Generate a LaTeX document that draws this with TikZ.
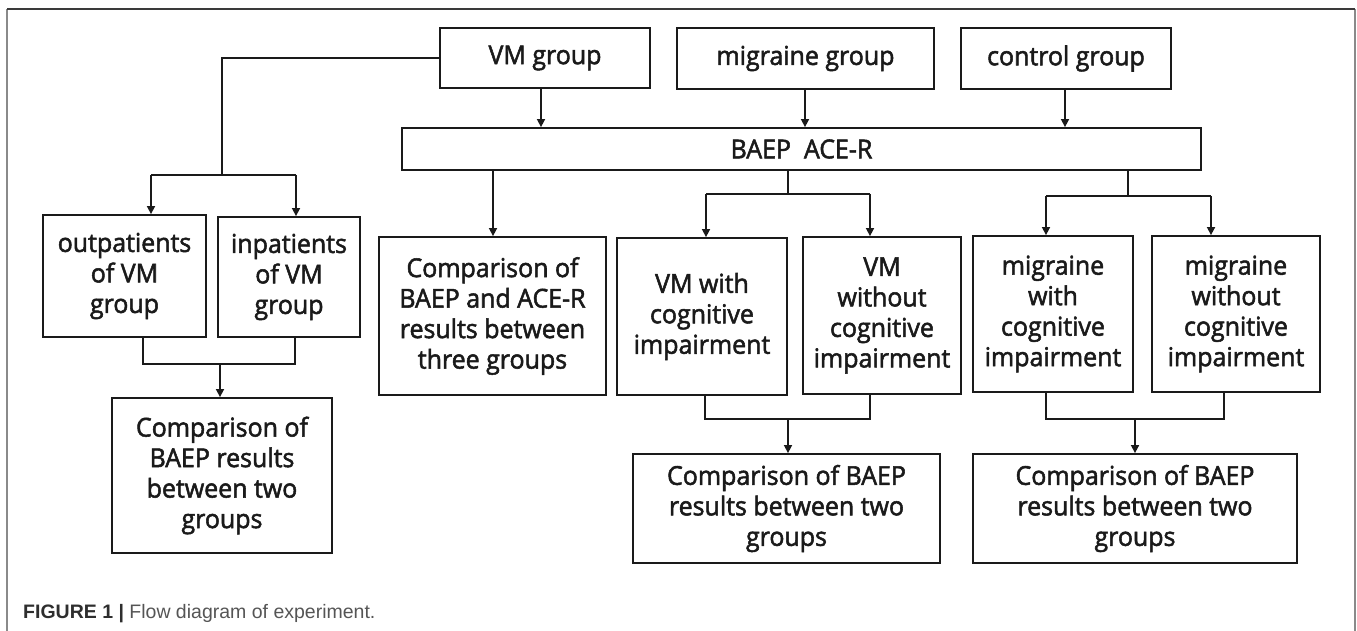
\documentclass[tikz,border=0pt]{standalone}
\usepackage{fontspec}
\setmainfont{Open Sans}
\newfontfamily\boxfont{Open Sans}[FakeBold=2,FakeStretch=0.96]
\newfontfamily\capfont{Liberation Sans}
\usetikzlibrary{arrows.meta}
\definecolor{ink}{HTML}{1A1A1A}
\definecolor{framedark}{HTML}{3A3A3A}
\definecolor{frameside}{HTML}{8A8A8A}
\definecolor{capdark}{HTML}{2E2E2E}
\definecolor{capgray}{HTML}{555555}
\tikzset{
  box/.style={draw=ink, line width=1.8pt, align=center, inner sep=0pt,
    font=\boxfont\fontsize{26}{30.5}\selectfont, text=ink},
  conn/.style={draw=ink, line width=1.6pt},
  arr/.style={conn, -{Triangle[length=8pt,width=8pt]}},
}
\begin{document}
\begin{tikzpicture}[x=1pt,y=-1pt]
\useasboundingbox (0,0) rectangle (1357,631);
% outer frame
\draw[frameside, line width=1.5pt] (7,631) -- (7,9);
\draw[frameside, line width=1.5pt] (1355,9) -- (1355,631);
\draw[framedark, line width=1.3pt] (7,9) -- (1355,9);

% boxes
\node[box, minimum width=210pt, minimum height=60pt] (vm) at (545,58) {VM group};
\node[box, minimum width=257pt, minimum height=61pt] (mig) at (805.5,58.5) {migraine group};
\node[box, minimum width=210pt, minimum height=61pt] (ctl) at (1066,58.5) {control group};
\node[box, minimum width=799pt, minimum height=42pt] (baep) at (801.5,149) {BAEP\ \ ACE-R};

\node[box, minimum width=163pt, minimum height=122pt] (out) at (124.5,276) {outpatients\\of VM\\group};
\node[box, minimum width=142pt, minimum height=120pt] (inp) at (289,277) {inpatients\\of VM\\group};
\node[box, minimum width=227pt, minimum height=158pt] (cmp3) at (492.5,316) {Comparison of\\BAEP and ACE-R\\results between\\three groups};
\node[box, minimum width=170pt, minimum height=157pt] (vmw) at (702,316.5) {VM with\\cognitive\\impairment};
\node[box, minimum width=158pt, minimum height=157pt] (vmwo) at (882,315.5) {VM\\without\\cognitive\\impairment};
\node[box, minimum width=160pt, minimum height=156pt] (mw) at (1053,314) {migraine\\with\\cognitive\\impairment};
\node[box, minimum width=168pt, minimum height=156pt] (mwo) at (1236,314) {migraine\\without\\cognitive\\impairment};

\node[box, minimum width=220pt, minimum height=155pt] (cmpL) at (222,475.5) {Comparison of\\BAEP results\\between two\\groups};
\node[box, minimum width=307pt, minimum height=109pt] (cmpM) at (786.5,508.5) {Comparison of BAEP\\results between two\\groups};
\node[box, minimum width=324pt, minimum height=109pt] (cmpR) at (1135,508.5) {Comparison of BAEP\\results between two\\groups};

% junction coordinates
\coordinate (jL) at (222,175);
\coordinate (bl1) at (151,175);
\coordinate (bl2) at (296,175);
\coordinate (cL1) at (143,364);
\coordinate (cL2) at (295,364);
\coordinate (cL) at (220,364);
\coordinate (a1) at (541,0);
\coordinate (a2) at (805,0);
\coordinate (a3) at (1065,0);
\coordinate (a4) at (493,0);
\coordinate (jM) at (788,194);
\coordinate (m1) at (706,194);
\coordinate (m2) at (870,194);
\coordinate (jR) at (1128,196);
\coordinate (r1) at (1046,196);
\coordinate (r2) at (1211,196);
\coordinate (p1) at (705,419);
\coordinate (p2) at (870,419);
\coordinate (p) at (788,419);
\coordinate (q1) at (1046,419);
\coordinate (q2) at (1224,419);
\coordinate (q) at (1135,419);

% left branch from VM group
\draw[conn] (vm.west) -| (jL);
\draw[conn] (bl1) -- (bl2);
\draw[arr] (bl1) -- (out.north -| bl1);
\draw[arr] (bl2) -- (inp.north -| bl2);
\draw[conn] (out.south -| cL1) -- (cL1) -- (cL2) -- (inp.south -| cL2);
\draw[arr] (cL) -- (cmpL.north -| cL);

% groups to BAEP
\draw[arr] (vm.south -| a1) -- (baep.north -| a1);
\draw[arr] (mig.south -| a2) -- (baep.north -| a2);
\draw[arr] (ctl.south -| a3) -- (baep.north -| a3);

% BAEP to results
\draw[arr] (baep.south -| a4) -- (cmp3.north -| a4);
\draw[conn] (baep.south -| jM) -- (jM);
\draw[conn] (m1) -- (m2);
\draw[arr] (m1) -- (vmw.north -| m1);
\draw[arr] (m2) -- (vmwo.north -| m2);
\draw[conn] (baep.south -| jR) -- (jR);
\draw[conn] (r1) -- (r2);
\draw[arr] (r1) -- (mw.north -| r1);
\draw[arr] (r2) -- (mwo.north -| r2);

% to bottom comparisons
\draw[conn] (vmw.south -| p1) -- (p1) -- (p2) -- (vmwo.south -| p2);
\draw[arr] (p) -- (cmpM.north -| p);
\draw[conn] (mw.south -| q1) -- (q1) -- (q2) -- (mwo.south -| q2);
\draw[arr] (q) -- (cmpR.north -| q);

% caption
\node[anchor=base west, inner sep=0pt, font=\capfont\fontsize{19.5}{22}\selectfont] (cap) at (23,618)
  {\textcolor{capdark}{\bfseries FIGURE 1 |} \textcolor{capgray}{Flow diagram of experiment.}};
\end{tikzpicture}
\end{document}
